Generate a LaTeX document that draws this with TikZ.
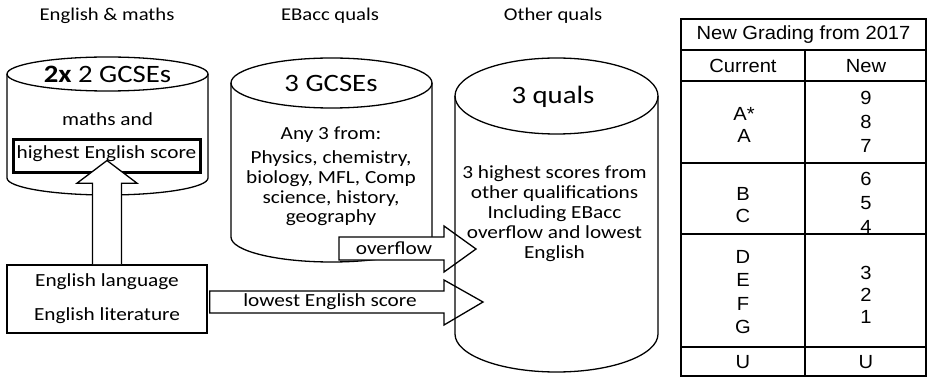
\documentclass[tikz,border=0pt]{standalone}
\usepackage{fontspec}
\setmainfont{Carlito}[FakeStretch=1.15]
\newfontfamily\tabfont{Liberation Sans}[FakeStretch=1.06]
\usetikzlibrary{calc}
\newcommand\drawcyl[6]{% #1 style, #2 L, #3 R, #4 top cy, #5 bottom cy, #6 ry
  \pgfmathsetmacro\cylrx{(#3-#2)/2}
  \draw[#1] (#2,-#4) -- (#2,-#5) arc[start angle=180,end angle=360,x radius=\cylrx,y radius=#6]
     -- (#3,-#4) arc[start angle=0,end angle=180,x radius=\cylrx,y radius=#6] -- cycle;
  \draw[#1,fill=none] (#2,-#4) arc[start angle=180,end angle=360,x radius=\cylrx,y radius=#6];
}
\begin{document}
\begin{tikzpicture}[x=1pt,y=1pt,
  cyl/.style={line width=1.3pt, fill=white},
  cylopen/.style={line width=1.3pt},
  title/.style={font=\fontsize{18}{20}\selectfont, inner sep=0pt},
  big/.style={font=\fontsize{25}{28}\selectfont, inner sep=0pt},
  body/.style={font=\fontsize{18.5}{20}\selectfont, align=center, inner sep=0pt},
  hibox/.style={draw, line width=3pt, inner sep=0pt},
  langbox/.style={draw, line width=1.6pt, fill=white, inner sep=0pt, align=center,
                  font=\fontsize{18.5}{34}\selectfont},
  blockarrow/.style={draw, line width=1.3pt, fill=white, line join=miter},
  tabline/.style={line width=2pt},
  tabtext/.style={font=\tabfont\fontsize{19}{24}\selectfont, align=center, inner sep=0pt}
]
\useasboundingbox (0,0) rectangle (928,-379);

% column titles
\node[title] (t1) at (107,-16) {English \& maths};
\node[title] (t2) at (330,-16) {EBacc quals};
\node[title] (t3) at (553,-16) {Other quals};

% cylinders 1 and 2
\drawcyl{cyl}{7}{208}{74}{178}{17}
\drawcyl{cyl}{231}{432}{83}{237}{25}

% cylinder 1 text
\node[big] (c1h) at (107.5,-74) {\textbf{2x} 2 GCSEs};
\node[body] (c1a) at (107.5,-119) {maths and};
\node[hibox, minimum width=187pt, minimum height=33pt] (hb) at (106.5,-156.5) {};
\node[body] (hbt) at ($(hb.center)+(0,3)$) {highest English score};

% cylinder 2 text
\node[big] (c2h) at (331,-83) {3 GCSEs};
\node[body] (c2a) at (331,-135) {Any 3 from:};
\node[body, font=\fontsize{18.5}{19.7}\selectfont] (c2b) at (331,-188.5)
  {Physics, chemistry,\\biology, MFL, Comp\\science, history,\\geography};

% English box
\node[langbox, minimum width=200pt, minimum height=68pt] (lang) at (107,-299)
  {English language\\English literature};

% up arrow
\draw[blockarrow] ($(lang.north)+(-14.5,0)$) -- ($(lang.north)+(-14.5,81)$)
  -- ($(lang.north)+(-30,81)$) -- ($(hb.south)+(0.5,14)$) -- ($(lang.north)+(30,81)$)
  -- ($(lang.north)+(14.5,81)$) -- ($(lang.north)+(14.5,0)$);

% overflow arrow
\coordinate (ovtip) at (476,-249);
\coordinate (lwtip) at (483,-302);
\draw[blockarrow] (339,-237) -- (444,-237) -- (444,-226) -- (ovtip) -- (444,-272)
  -- (444,-260) -- (339,-260) -- cycle;
\node[body] (ovt) at (394,-248) {overflow};

% lowest English arrow
\draw[blockarrow] ($(lang.east)+(2,8)$) -- (444,-291) -- (444,-280) -- (lwtip)
  -- (444,-325) -- (444,-313) -- ($(lang.east)+(2,-14)$) -- cycle;
\node[body] (lwt) at (330,-302) {lowest English score};

% cylinder 3 (open, drawn over the arrow heads)
\drawcyl{cylopen}{455}{658}{96}{334}{38}
\node[big] (c3h) at (553,-97) {3 quals};
\node[body] (c3b) at (554.5,-214)
  {3 highest scores from\\other qualifications\\Including EBacc\\overflow and lowest\\English};

% grading table
\draw[line width=2.5pt] (681,-19) rectangle (926,-376);
\foreach \yy in {50,81,163,234,347} \draw[tabline] (681,-\yy) -- (926,-\yy);
\draw[tabline] (805,-50) -- (805,-376);
\node[tabtext] (th) at (803.5,-35) {New Grading from 2017};
\node[tabtext] (hc) at (743,-66) {Current};
\node[tabtext] (hn) at (866,-66) {New};
\node[tabtext, font=\tabfont\fontsize{19}{22}\selectfont] (g1c) at (744,-125) {A*\\A};
\node[tabtext] (g1n) at (866,-122) {9\\8\\7};
\node[tabtext, font=\tabfont\fontsize{19}{22}\selectfont] (g2c) at (743,-205) {B\\C};
\node[tabtext] (g2n) at (866,-203) {6\\5\\4};
\node[tabtext, font=\tabfont\fontsize{19}{23.3}\selectfont] (g3c) at (743,-292) {D\\E\\F\\G};
\node[tabtext, font=\tabfont\fontsize{19}{22}\selectfont] (g3n) at (866,-295) {3\\2\\1};
\node[tabtext] (uc) at (743,-362) {U};
\node[tabtext] (un) at (866,-362) {U};
\end{tikzpicture}
\end{document}
